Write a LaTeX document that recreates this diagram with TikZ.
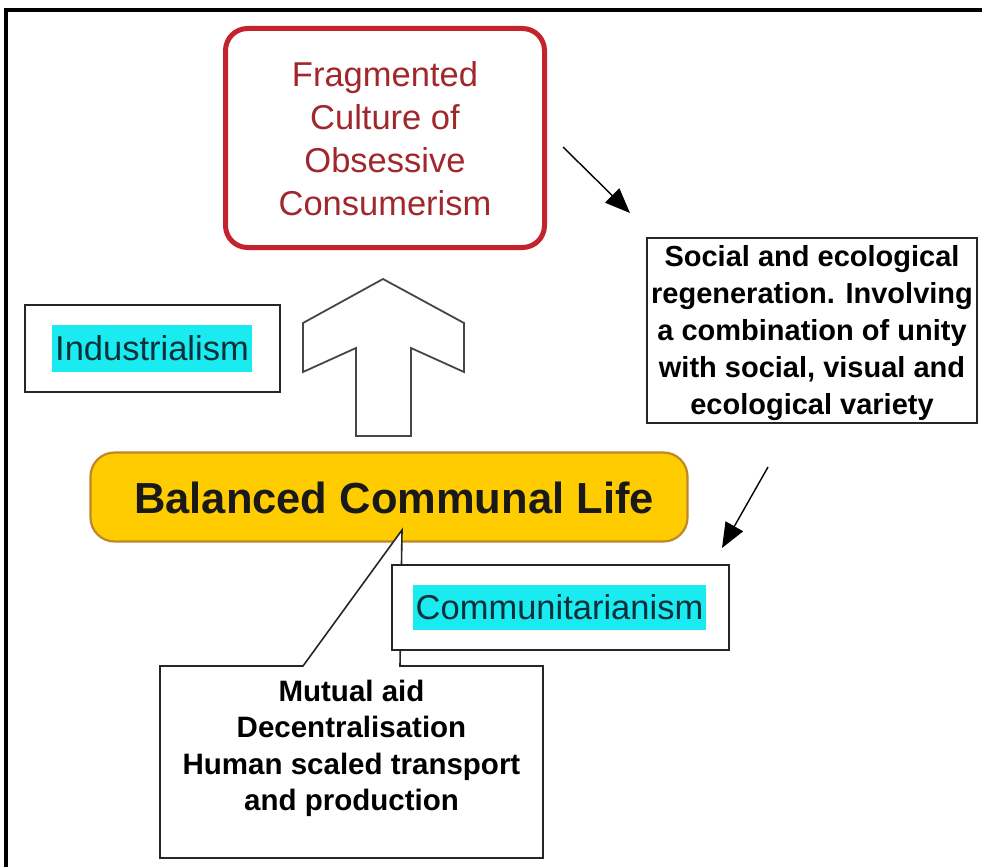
\documentclass[tikz,border=0pt]{standalone}
\usepackage{fontspec}
\setmainfont{Liberation Sans}
\usetikzlibrary{arrows.meta}

\definecolor{cultureline}{RGB}{195,35,45}
\definecolor{culturetext}{RGB}{160,40,45}
\definecolor{goldfill}{RGB}{255,204,0}
\definecolor{goldline}{RGB}{190,135,40}
\definecolor{marker}{RGB}{25,235,240}
\definecolor{markertext}{RGB}{12,48,58}
\definecolor{blockline}{RGB}{70,70,70}

\tikzset{
  plainbox/.style={draw=black!85, line width=1.6pt, fill=white, inner sep=0pt},
  highlight/.style={fill=marker, text=markertext, inner sep=0pt,
    font=\fontsize{34.5}{43}\selectfont},
  pointer/.style={line width=1.4pt, -{Triangle[length=25pt,width=20pt]}},
  smalltext/.style={align=center, inner sep=0pt, font=\bfseries\fontsize{29.5}{36.5}\selectfont}
}

\begin{document}
\begin{tikzpicture}[x=1pt,y=-1pt]
\useasboundingbox (0,0) rectangle (982,867);
\fill[white] (0,0) rectangle (982,867);

% outer frame (top and left edges)
\draw[line width=4pt] (6,867) -- (6,10) -- (982,10);

% top box
\node[draw=cultureline, line width=5pt, rounded corners=22pt,
      minimum width=319pt, minimum height=219pt, inner sep=0pt] (frag) at (385,138) {};
\node[anchor=north, align=center, inner sep=0pt, text=culturetext,
      font=\fontsize{34.5}{43}\selectfont] (fragtext) at (385,61)
  {Fragmented\\Culture of\\Obsessive\\Consumerism};

% pointers
\coordinate (p1s) at (563,147);
\coordinate (p1e) at (630,213);
\draw[pointer] (p1s) -- (p1e);
\coordinate (p2s) at (768,467);
\coordinate (p2e) at (722,548);
\draw[pointer] (p2s) -- (p2e);

% regeneration box
\node[plainbox, minimum width=330pt, minimum height=185pt] (regen) at (812,330.5) {};
\node[smalltext, anchor=north, font=\bfseries\fontsize{29}{37}\selectfont] (regentext) at (812,245)
  {Social and ecological\\regeneration. Involving\\a combination of unity\\with social, visual and\\ecological variety};

% industrialism label
\node[plainbox, minimum width=255pt, minimum height=87pt] (indbox) at (152.5,348.5) {};
\node[highlight, minimum width=200pt, minimum height=47pt] (ind) at (152,348.5) {Industrialism};

% block arrow pointing up
\draw[blockline, line width=1.8pt, fill=white, line join=miter]
  (383,279) -- (464,323) -- (464,372) -- (411,348) -- (411,436)
  -- (356,436) -- (356,348) -- (303,372) -- (303,323) -- cycle;

% central node
\node[draw=goldline, fill=goldfill, line width=2.2pt, rounded corners=24pt,
      minimum width=597pt, minimum height=89pt, inner sep=0pt] (life) at (389,497) {};
\node[anchor=base, inner sep=0pt, font=\bfseries\fontsize{43.5}{50}\selectfont,
      text=black!90] (lifetext) at (394,513) {Balanced Communal Life};

% callout box with its pointer into the central node
\coordinate (tip) at (402,530);
\draw[draw=black!85, line width=1.6pt, fill=white, line join=miter]
  (160,666) -- (303,666) -- (tip) -- (400,666) -- (543,666)
  -- (543,858) -- (160,858) -- cycle;
\node[smalltext, anchor=north] (aidtext) at (351.5,679.5)
  {Mutual aid\\Decentralisation\\Human scaled transport\\and production};

% communitarianism label
\node[plainbox, minimum width=337pt, minimum height=85pt] (combox) at (560.5,607.5) {};
\node[highlight, minimum width=293pt, minimum height=45pt] (com) at (559.5,607.5) {Communitarianism};
\end{tikzpicture}
\end{document}
